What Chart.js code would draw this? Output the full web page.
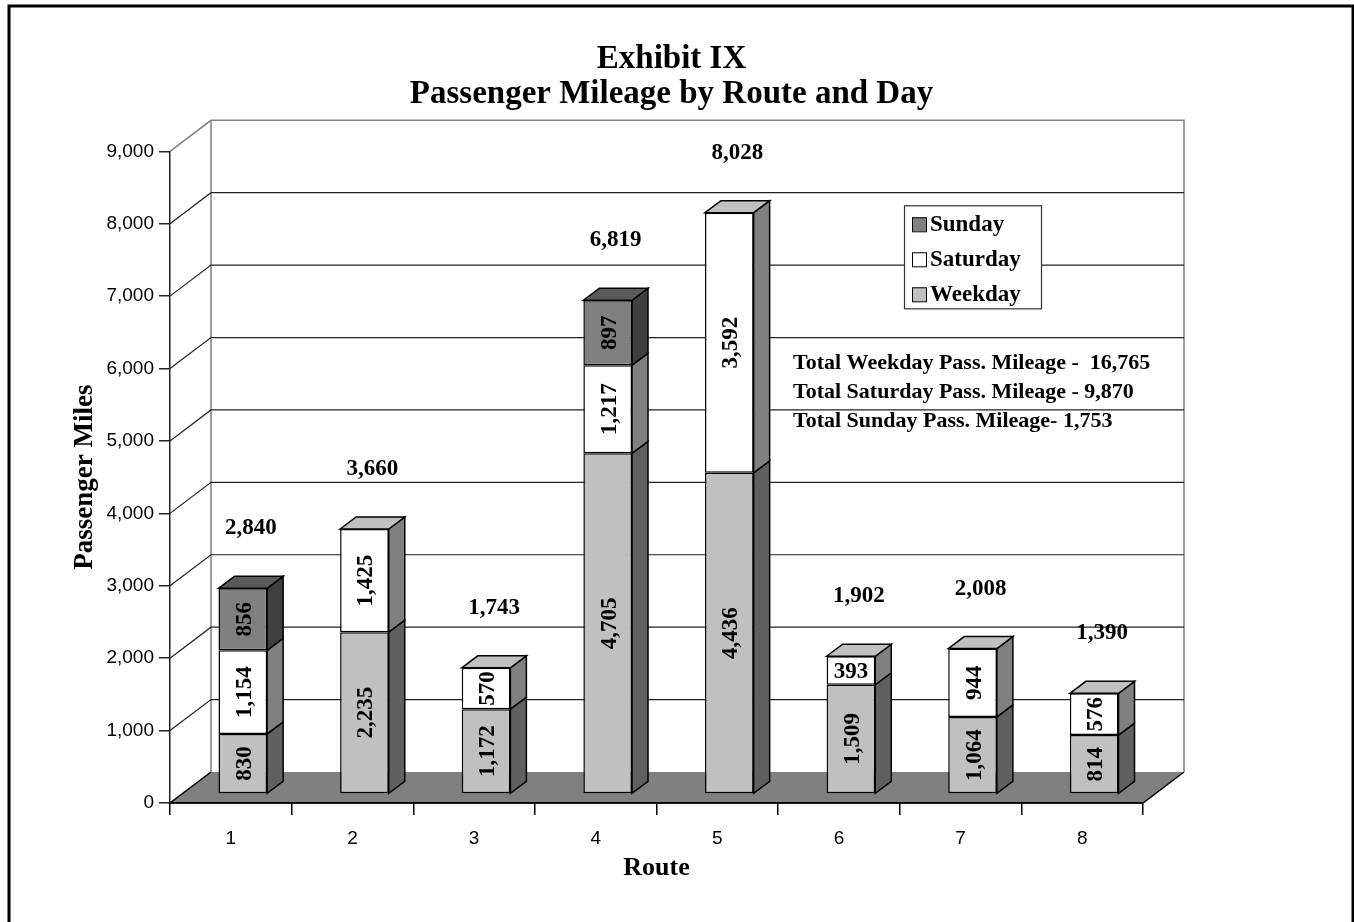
<!DOCTYPE html>
<html>
<head>
<meta charset="utf-8">
<title>Exhibit IX - Passenger Mileage by Route and Day</title>
<script src="https://cdn.jsdelivr.net/npm/chart.js@4.4.1/dist/chart.umd.min.js"></script>
<style>
  html, body { margin: 0; padding: 0; background: #fff; }
  canvas { display: block; }
</style>
</head>
<body>
<canvas id="chart" width="1354" height="922"></canvas>
<script>
// Routes along the x axis
const routes = ['1', '2', '3', '4', '5', '6', '7', '8'];

// Passenger miles by route, one array per day type (null = no service)
const weekday  = [830, 2235, 1172, 4705, 4436, 1509, 1064, 814];
const saturday = [1154, 1425, 570, 1217, 3592, 393, 944, 576];
const sunday   = [856, null, null, 897, null, null, null, null];

// Totals as printed above the bars
const routeTotals = ['2,840', '3,660', '1,743', '6,819', '8,028', '1,902', '2,008', '1,390'];

// Notes printed inside the plot
const totalNotes = [
    'Total Weekday Pass. Mileage -  16,765',
    'Total Saturday Pass. Mileage - 9,870',
    'Total Sunday Pass. Mileage- 1,753'
];

const serif = "'Liberation Serif', 'Times New Roman', serif";
const sans = "'Liberation Sans', Arial, sans-serif";

// fake 3D depth (pixels)
const WALL_DX = 41, WALL_DY = 31;   // floor / side wall depth
const BAR_DX = 12, BAR_DY = 9;      // bars sit a little behind the front plane
const FACE_DX = 16, FACE_DY = 12;   // depth of each bar

// Walls, floor, bar side faces, labels, legend
const depthPlugin = {
    id: 'depth3d',
    beforeDraw(chart) {
        const { ctx, chartArea: a, scales: { y } } = chart;
        ctx.save();

        // floor
        ctx.beginPath();
        ctx.moveTo(a.left, a.bottom);
        ctx.lineTo(a.right, a.bottom);
        ctx.lineTo(a.right + WALL_DX, a.bottom - WALL_DY);
        ctx.lineTo(a.left + WALL_DX, a.bottom - WALL_DY);
        ctx.closePath();
        ctx.fillStyle = '#808080';
        ctx.fill();
        ctx.strokeStyle = '#000';
        ctx.lineWidth = 1.5;
        ctx.beginPath();
        ctx.moveTo(a.left + WALL_DX, a.bottom - WALL_DY);
        ctx.lineTo(a.left, a.bottom);
        ctx.lineTo(a.right, a.bottom);
        ctx.lineTo(a.right + WALL_DX, a.bottom - WALL_DY);
        ctx.stroke();

        // wall edges
        ctx.strokeStyle = '#808080';
        ctx.beginPath();
        ctx.moveTo(a.left, a.top);
        ctx.lineTo(a.left + WALL_DX, a.top - WALL_DY);
        ctx.lineTo(a.right + WALL_DX, a.top - WALL_DY);
        ctx.lineTo(a.right + WALL_DX, a.bottom - WALL_DY);
        ctx.moveTo(a.left + WALL_DX, a.top - WALL_DY);
        ctx.lineTo(a.left + WALL_DX, a.bottom - WALL_DY);
        ctx.stroke();

        // gridlines on side wall and back wall
        ctx.strokeStyle = '#222';
        ctx.lineWidth = 1.2;
        y.ticks.forEach(t => {
            if (t.value === y.min || t.value === y.max) return;
            const py = y.getPixelForValue(t.value);
            ctx.beginPath();
            ctx.moveTo(a.left, py);
            ctx.lineTo(a.left + WALL_DX, py - WALL_DY);
            ctx.lineTo(a.right + WALL_DX, py - WALL_DY);
            ctx.stroke();
        });
        ctx.restore();
    },
    beforeDatasetsDraw(chart) {
        chart.ctx.save();
        chart.ctx.translate(BAR_DX, -BAR_DY);
    },
    afterDatasetsDraw(chart) {
        const ctx = chart.ctx;
        const metas = chart.getSortedVisibleDatasetMetas();

        routes.forEach((r, i) => {
            let top = null;
            const segs = [];
            metas.forEach(meta => {
                const ds = chart.data.datasets[meta.index];
                if (ds.data[i] == null) return;
                const { x, y, base, width } = meta.data[i].getProps(['x', 'y', 'base', 'width'], true);
                const right = x + width / 2;

                // side face
                ctx.beginPath();
                ctx.moveTo(right, y);
                ctx.lineTo(right + FACE_DX, y - FACE_DY);
                ctx.lineTo(right + FACE_DX, base - FACE_DY);
                ctx.lineTo(right, base);
                ctx.closePath();
                ctx.fillStyle = ds.sideColor;
                ctx.fill();
                ctx.strokeStyle = '#000';
                ctx.lineWidth = 1.5;
                ctx.stroke();

                top = { x, y, width, color: ds.topColor };
                segs.push({ x, y, base, value: ds.data[i] });
            });
            if (!top) return;

            // top face of the highest segment
            const l = top.x - top.width / 2, rr = top.x + top.width / 2;
            ctx.beginPath();
            ctx.moveTo(l, top.y);
            ctx.lineTo(l + FACE_DX, top.y - FACE_DY);
            ctx.lineTo(rr + FACE_DX, top.y - FACE_DY);
            ctx.lineTo(rr, top.y);
            ctx.closePath();
            ctx.fillStyle = top.color;
            ctx.fill();
            ctx.strokeStyle = '#000';
            ctx.lineWidth = 1.5;
            ctx.stroke();

            // segment values
            ctx.fillStyle = '#000';
            ctx.font = 'bold 23px ' + serif;
            ctx.textAlign = 'center';
            ctx.textBaseline = 'middle';
            segs.forEach(s => {
                const text = s.value.toLocaleString('en-US');
                const cy = (s.y + s.base) / 2;
                if (s.base - s.y > 34) {
                    ctx.save();
                    ctx.translate(s.x + 2, cy);
                    ctx.rotate(-Math.PI / 2);
                    ctx.fillText(text, 0, 0);
                    ctx.restore();
                } else {
                    ctx.fillText(text, s.x, cy + 2);
                }
            });

            // route total
            ctx.fillText(routeTotals[i], top.x + FACE_DX / 2, top.y - 60);
        });
        ctx.restore();
    },
    afterDraw(chart) {
        const { ctx, chartArea: a } = chart;
        ctx.save();

        // legend
        const lx = a.left + 734, ly = a.top + 54;
        ctx.fillStyle = '#fff';
        ctx.fillRect(lx, ly, 137, 103);
        ctx.strokeStyle = '#333';
        ctx.lineWidth = 1.2;
        ctx.strokeRect(lx + 0.5, ly + 0.5, 137, 103);
        ctx.font = 'bold 23px ' + serif;
        ctx.textAlign = 'left';
        ctx.textBaseline = 'middle';
        chart.data.datasets.slice().reverse().forEach((ds, k) => {
            const ry = ly + 19 + k * 35;
            ctx.fillStyle = ds.backgroundColor;
            ctx.fillRect(lx + 8, ry - 7, 14, 14);
            ctx.strokeStyle = '#000';
            ctx.lineWidth = 1;
            ctx.strokeRect(lx + 8.5, ry - 6.5, 14, 14);
            ctx.fillStyle = '#000';
            ctx.fillText(ds.label, lx + 26, ry + 1);
        });

        // totals notes
        ctx.font = 'bold 22px ' + serif;
        totalNotes.forEach((t, k) => {
            ctx.fillText(t, a.left + 623, a.top + 212 + k * 29);
        });

        // frame
        ctx.strokeStyle = '#000';
        ctx.lineWidth = 3;
        ctx.strokeRect(9, 6, 1344, 1000);
        ctx.restore();
    }
};

new Chart(document.getElementById('chart'), {
    type: 'bar',
    data: {
        labels: routes,
        datasets: [
            { label: 'Weekday', data: weekday, backgroundColor: '#c0c0c0', sideColor: '#606060', topColor: '#a0a0a0' },
            { label: 'Saturday', data: saturday, backgroundColor: '#ffffff', sideColor: '#808080', topColor: '#c0c0c0' },
            { label: 'Sunday', data: sunday, backgroundColor: '#808080', sideColor: '#404040', topColor: '#5a5a5a' }
        ]
    },
    options: {
        responsive: false,
        animation: false,
        events: [],
        layout: { padding: { left: 9, right: 20, top: 0, bottom: 20 } },
        datasets: {
            bar: {
                borderColor: '#000',
                borderWidth: 1.5,
                borderSkipped: false,
                barPercentage: 0.4,
                categoryPercentage: 1,
                clip: false
            }
        },
        plugins: {
            legend: { display: false },
            tooltip: { enabled: false },
            title: {
                display: true,
                text: ['Exhibit IX', 'Passenger Mileage by Route and Day'],
                color: '#000',
                font: { family: serif, size: 33, weight: 'bold', lineHeight: 1.05 },
                padding: { top: 42, bottom: 40 }
            }
        },
        scales: {
            x: {
                stacked: true,
                grid: { offset: true, drawOnChartArea: false, drawTicks: true, tickLength: 12, color: '#000', lineWidth: 1.5 },
                border: { display: true, color: '#000', width: 1.5 },
                ticks: { color: '#000', font: { family: sans, size: 19 }, padding: 12 },
                title: {
                    display: true,
                    text: 'Route',
                    color: '#000',
                    font: { family: serif, size: 26, weight: 'bold' },
                    padding: { top: 0, bottom: 18 }
                },
                afterFit(scale) { scale.height = 99; }
            },
            y: {
                stacked: true,
                min: 0,
                max: 9000,
                grid: { drawOnChartArea: false, drawTicks: true, tickLength: 11, color: '#222', lineWidth: 1.5 },
                border: { display: true, color: '#222', width: 1.5 },
                ticks: {
                    stepSize: 1000,
                    color: '#000',
                    font: { family: sans, size: 19 },
                    padding: 5,
                    callback: v => v.toLocaleString('en-US')
                },
                title: {
                    display: true,
                    text: 'Passenger Miles',
                    color: '#000',
                    font: { family: serif, size: 27, weight: 'bold' },
                    padding: { top: 60, bottom: 0 }
                },
                afterFit(scale) { scale.width = 161; }
            },
            // empty axis that only reserves the space on the right
            yRight: {
                position: 'right',
                display: true,
                grid: { display: false, drawTicks: false },
                border: { display: false },
                ticks: { display: false },
                afterFit(scale) { scale.width = 191; }
            }
        }
    },
    plugins: [depthPlugin]
});
</script>
</body>
</html>
